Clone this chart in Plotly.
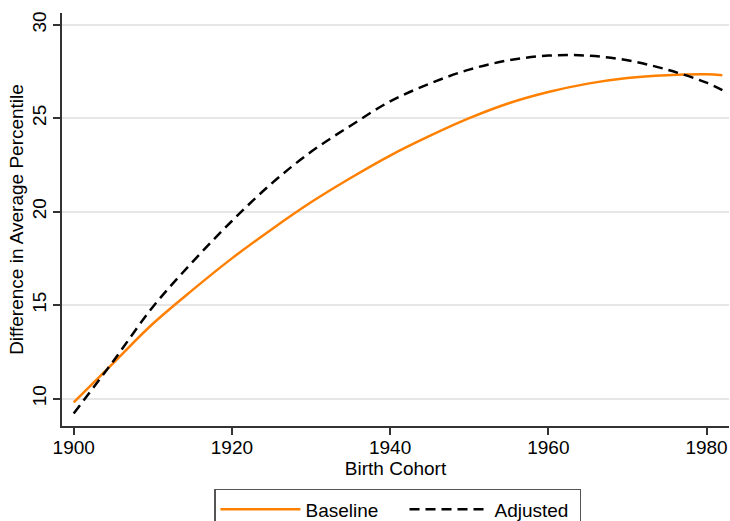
import plotly.graph_objects as go

years = [1900, 1905, 1910, 1915, 1920, 1925, 1930, 1935, 1940, 1945,
         1950, 1955, 1960, 1965, 1970, 1975, 1980, 1982]
baseline = [9.8, 11.9, 14.0, 15.8, 17.5, 19.05, 20.5, 21.8, 23.0, 24.05,
            25.0, 25.8, 26.4, 26.85, 27.15, 27.3, 27.35, 27.3]
adjusted = [9.2, 12.0, 14.9, 17.3, 19.5, 21.5, 23.2, 24.6, 25.9, 26.85,
            27.6, 28.1, 28.35, 28.35, 28.1, 27.6, 26.9, 26.5]

x_ticks = [1900, 1920, 1940, 1960, 1980]
y_ticks = [10, 15, 20, 25, 30]

FONT = "Arial, Liberation Sans, Helvetica, sans-serif"
AX = "#333333"
FS = 19
PAD = "\u00a0" * 4

fig = go.Figure()
fig.add_trace(go.Scatter(x=years, y=baseline, mode="lines", name="Baseline" + PAD,
                         line=dict(color="#ff8000", width=2.5, shape="spline")))
fig.add_trace(go.Scatter(x=years, y=adjusted, mode="lines", name="Adjusted\u00a0",
                         line=dict(color="#000000", width=2.5, dash="10px,6px",
                                   shape="spline")))

fig.update_layout(
    width=730, height=521,
    margin=dict(l=62, r=1, t=13, b=95, autoexpand=False),
    paper_bgcolor="white", plot_bgcolor="white",
    font=dict(family=FONT, size=FS, color="#000000"),
    xaxis=dict(range=[1898.52, 1982.84], tickvals=x_ticks,
               tickfont=dict(size=FS), ticklabelstandoff=-4,
               showline=True, linecolor=AX, linewidth=1.5,
               ticks="outside", ticklen=7, tickwidth=1.5, tickcolor=AX,
               showgrid=False, zeroline=False,
               title=dict(text="Birth Cohort", standoff=0,
                          font=dict(size=FS))),
    yaxis=dict(range=[8.53, 30.63], tickvals=y_ticks, tickangle=-90,
               tickfont=dict(size=FS),
               showline=True, linecolor=AX, linewidth=1.5,
               ticks="outside", ticklen=7, tickwidth=1.5, tickcolor=AX,
               showgrid=True, gridcolor="#e6e6e6", gridwidth=1.5,
               zeroline=False,
               title=dict(text="Difference in Average Percentile", standoff=0,
                          font=dict(size=FS))),
    legend=dict(orientation="h", x=0.503, xanchor="center",
                y=-0.1525, yanchor="top",
                bordercolor="#555555", borderwidth=1.5,
                itemwidth=80,
                font=dict(size=FS),
                tracegroupgap=0),
    showlegend=True,
)

fig.write_html("out.html")
